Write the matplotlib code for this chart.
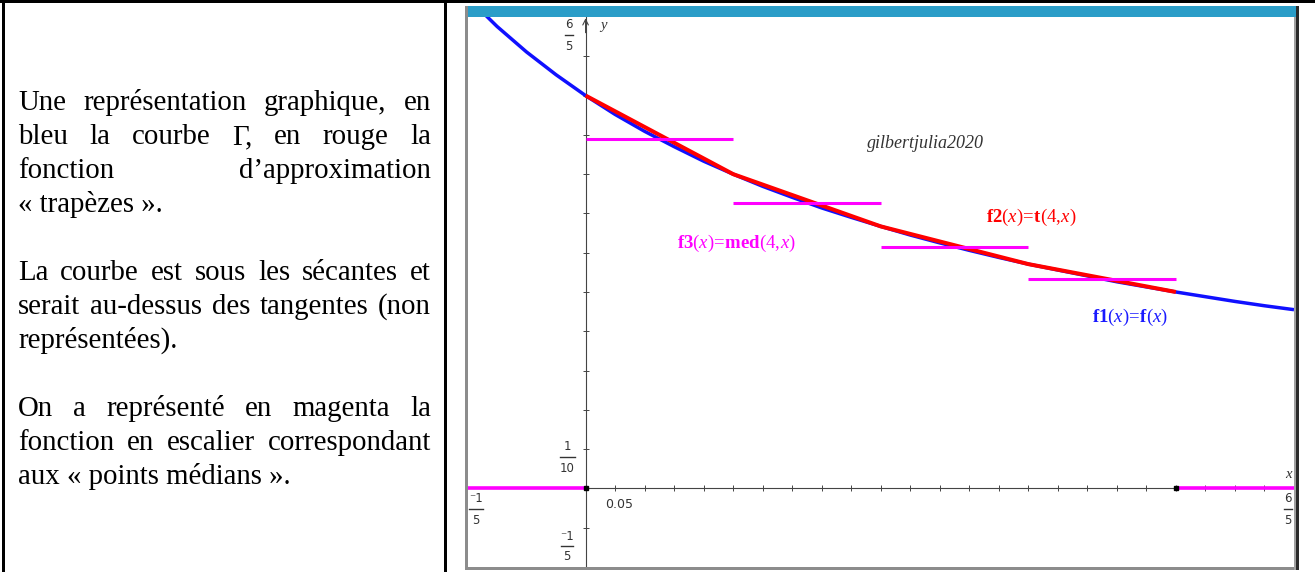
import matplotlib
matplotlib.use("Agg")
import matplotlib.pyplot as plt
from matplotlib.lines import Line2D
from matplotlib.patches import Rectangle

# ---------------- data ----------------
curve_x = [-0.20, -0.15, -0.10, -0.05, 0.00, 0.05, 0.10, 0.15, 0.20, 0.25,
           0.30, 0.35, 0.40, 0.45, 0.50, 0.55, 0.60, 0.65, 0.70, 0.75,
           0.80, 0.85, 0.90, 0.95, 1.00, 1.05, 1.10, 1.15, 1.20]
curve_y = [1.250, 1.176, 1.111, 1.053, 1.000, 0.952, 0.909, 0.870, 0.833, 0.800,
           0.769, 0.741, 0.714, 0.690, 0.667, 0.645, 0.625, 0.606, 0.588, 0.571,
           0.556, 0.541, 0.526, 0.513, 0.500, 0.488, 0.476, 0.465, 0.455]
trap_x = [0.0, 0.25, 0.5, 0.75, 1.0]
trap_y = [1.0, 0.800, 0.667, 0.571, 0.500]
step_edges = [0.0, 0.25, 0.5, 0.75, 1.0]
step_levels = [0.889, 0.727, 0.615, 0.533]
outside_left = [-0.2, 0.0]
outside_right = [1.0, 1.2]
outside_level = 0.0
x_ticks = [0.05, 0.10, 0.15, 0.20, 0.25, 0.30, 0.35, 0.40, 0.45, 0.50, 0.55,
           0.60, 0.65, 0.70, 0.75, 0.80, 0.85, 0.90, 0.95, 1.00, 1.05, 1.10, 1.15]
y_ticks = [-0.1, 0.1, 0.2, 0.3, 0.4, 0.5, 0.6, 0.7, 0.8, 0.9, 1.0, 1.1]
x_range = [-0.2, 1.2]
y_range = [-0.2, 1.2]

paragraphs = [
    ["Une représentation graphique, en",
     "bleu la courbe Γ, en rouge la",
     "fonction d’approximation",
     "« trapèzes »."],
    ["La courbe est sous les sécantes et",
     "serait au-dessus des tangentes (non",
     "représentées)."],
    ["On a représenté en magenta la",
     "fonction en escalier correspondant",
     "aux « points médians »."],
]
label_f1 = r"$\mathbf{f1}(x)\!=\!\mathbf{f}(x)$"
label_f2 = r"$\mathbf{f2}(x)\!=\!\mathbf{t}(4,\!x)$"
label_f3 = r"$\mathbf{f3}(x)\!=\!\mathbf{med}(4,\!x)$"
watermark = "gilbertjulia2020"

# ---------------- figure ----------------
W, H = 1315, 572
plt.rcParams["mathtext.fontset"] = "custom"
plt.rcParams["mathtext.rm"] = "Liberation Serif"
plt.rcParams["mathtext.it"] = "Liberation Serif:italic"
plt.rcParams["mathtext.bf"] = "Liberation Serif:bold"

fig = plt.figure(figsize=(W / 100, H / 100), dpi=100)
fig.patch.set_facecolor("white")


def fx(x):
    return x / W


def fy(y):
    return 1 - y / H


def prect(x0, y0, x1, y1, color, z=5):
    fig.add_artist(Rectangle((fx(x0), fy(y1)), fx(x1) - fx(x0), fy(y0) - fy(y1),
                             transform=fig.transFigure, facecolor=color,
                             edgecolor="none", zorder=z))


def ptext(x, y, s, **kw):
    return fig.text(fx(x), fy(y), s, **kw)


# table borders
prect(0, 0, W, 3, "black")
prect(2, 0, 5, H, "black")
prect(444, 0, 446.5, H, "black")

# left text column, justified
renderer = fig.canvas.get_renderer()
left, right = 18, 431
fsize = 20.8
baselines = [[110, 144, 178, 212], [280, 314, 348], [416, 450, 484]]
for para, bls in zip(paragraphs, baselines):
    for i, (line, bl) in enumerate(zip(para, bls)):
        last = i == len(para) - 1
        if last:
            ptext(left, bl, line, fontsize=fsize, family="Liberation Serif",
                  va="baseline", ha="left")
            continue
        words = line.split(" ")
        texts = [ptext(left, bl, w, fontsize=fsize, family="Liberation Serif",
                       va="baseline", ha="left") for w in words]
        widths = [t.get_window_extent(renderer).width for t in texts]
        gap = max((right - left - sum(widths)) / (len(words) - 1), 3.0)
        xpos = left
        for t, w in zip(texts, widths):
            t.set_x(fx(xpos))
            xpos += w + gap

# graph window frame
prect(465, 6, 1298, 17, "#2a9dc8")
prect(465, 6, 467.5, 569, "#8c8c8c")
prect(465, 567, 1299, 570, "#8c8c8c")
prect(1294, 17, 1296, 570, "#a0a0a0")
prect(1296, 6, 1299, 570, "#2a2a2a")

ax = fig.add_axes([fx(467.5), fy(567), fx(1294) - fx(467.5), fy(17) - fy(567)])
ax.set_xlim(*x_range)
ax.set_ylim(*y_range)
ax.set_facecolor("white")
for s in ["top", "right"]:
    ax.spines[s].set_visible(False)
ax.spines["left"].set_position(("data", 0))
ax.spines["bottom"].set_position(("data", 0))
for s in ["left", "bottom"]:
    ax.spines[s].set_color("#444444")
    ax.spines[s].set_linewidth(0.8)
ax.set_xticks(x_ticks)
ax.set_yticks(y_ticks)
ax.set_xticklabels([])
ax.set_yticklabels([])
ax.tick_params(direction="inout", length=4, width=0.7, color="#444444")
ax.annotate("", xy=(0, y_range[1] - 0.003), xytext=(0, y_range[1] - 0.04),
            arrowprops=dict(arrowstyle="->", lw=0.8, color="#444444",
                            shrinkA=0, shrinkB=0))

# curves
ax.plot(curve_x, curve_y, color="#1010ff", lw=2.5, solid_capstyle="butt", zorder=3)
ax.plot(trap_x, trap_y, color="#ff0000", lw=2.9, solid_capstyle="butt", zorder=4)
ax.hlines(step_levels, step_edges[:-1], step_edges[1:], color="#ff00ff", lw=2.2, zorder=5)
ax.hlines([outside_level, outside_level], [outside_left[0], outside_right[0]],
          [outside_left[1], outside_right[1]], color="#ff00ff", lw=2.6, zorder=5)
ax.plot([step_edges[0], step_edges[-1]], [outside_level, outside_level], "s",
        color="black", ms=2.8, zorder=6)

# labels in the graph
ptext(925, 143, watermark, fontsize=13, family="Liberation Serif",
      style="italic", color="#333333", ha="center", va="center")
ptext(736, 243, label_f3, fontsize=13.5, color="#ff00ff", ha="center", va="center")
ptext(1031, 217, label_f2, fontsize=13.5, color="#ff0000", ha="center", va="center")
ptext(1130, 317, label_f1, fontsize=13.5, color="#1a1aff", ha="center", va="center")

ptext(603, 26, "y", fontsize=10.5, family="Liberation Serif", style="italic",
      color="#333333", ha="center", va="center")
ptext(1288, 475, "x", fontsize=10.5, family="Liberation Serif", style="italic",
      color="#333333", ha="center", va="center")
ptext(619.5, 505, "0.05", fontsize=9, family="DejaVu Sans", color="#333333",
      ha="center", va="center")


def frac(cx, bar_y, num, den, bw):
    ptext(cx, bar_y - 10, num, fontsize=8.5, family="DejaVu Sans", color="#333333",
          ha="center", va="center")
    ptext(cx, bar_y + 11, den, fontsize=8.5, family="DejaVu Sans", color="#333333",
          ha="center", va="center")
    fig.add_artist(Line2D([fx(cx - bw / 2), fx(cx + bw / 2)], [fy(bar_y), fy(bar_y)],
                          transform=fig.transFigure, color="#333333", lw=1.0))


frac(569, 35, "6", "5", 8)
frac(567, 457, "1", "10", 15)
frac(567, 546, "⁻1", "5", 12)
frac(476, 509, "⁻1", "5", 14)
frac(1288, 509, "6", "5", 8)

fig.savefig("out.png", dpi=100, facecolor="white")
